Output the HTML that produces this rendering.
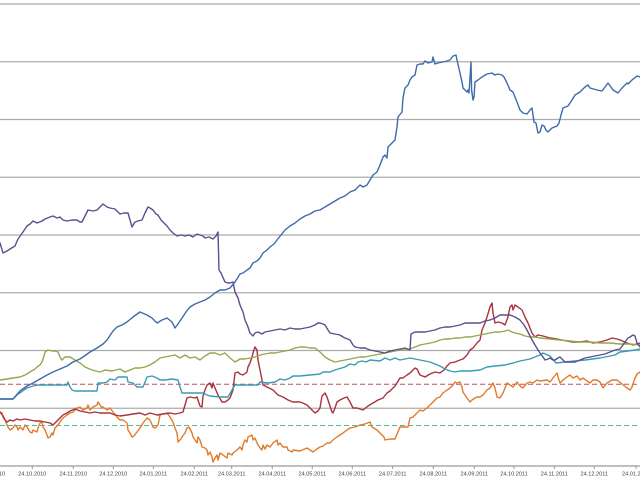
<!DOCTYPE html>
<html><head><meta charset="utf-8"><style>
html,body{margin:0;padding:0;background:#fff;}
svg{display:block;}
text{font-family:"Liberation Sans",sans-serif;font-size:5.6px;fill:#404040;}
</style></head><body>
<svg width="640" height="480" viewBox="0 0 640 480" xmlns="http://www.w3.org/2000/svg">
<rect width="640" height="480" fill="#fff"/>
<g stroke="#ababab" stroke-width="1.2">
<line x1="0" y1="4" x2="640" y2="4"/>
<line x1="0" y1="61.75" x2="640" y2="61.75"/>
<line x1="0" y1="119.5" x2="640" y2="119.5"/>
<line x1="0" y1="177.25" x2="640" y2="177.25"/>
<line x1="0" y1="235" x2="640" y2="235"/>
<line x1="0" y1="292.75" x2="640" y2="292.75"/>
<line x1="0" y1="350.5" x2="640" y2="350.5"/>
<line x1="0" y1="408.25" x2="640" y2="408.25"/>
</g>
<line x1="0" y1="466" x2="640" y2="466" stroke="#9a9a9a" stroke-width="1.2"/>
<g stroke="#9a9a9a" stroke-width="1">
<line x1="32.3" y1="466" x2="32.3" y2="469"/><line x1="73.3" y1="466" x2="73.3" y2="469"/>
<line x1="113.3" y1="466" x2="113.3" y2="469"/><line x1="153.3" y1="466" x2="153.3" y2="469"/>
<line x1="194.3" y1="466" x2="194.3" y2="469"/><line x1="231.7" y1="466" x2="231.7" y2="469"/>
<line x1="272.3" y1="466" x2="272.3" y2="469"/><line x1="312.3" y1="466" x2="312.3" y2="469"/>
<line x1="352.3" y1="466" x2="352.3" y2="469"/><line x1="392.7" y1="466" x2="392.7" y2="469"/>
<line x1="433.3" y1="466" x2="433.3" y2="469"/><line x1="474.3" y1="466" x2="474.3" y2="469"/>
<line x1="514" y1="466" x2="514" y2="469"/><line x1="554.3" y1="466" x2="554.3" y2="469"/>
<line x1="594.3" y1="466" x2="594.3" y2="469"/><line x1="636" y1="466" x2="636" y2="469"/>
</g>
<g text-anchor="middle">
<text x="-9" y="475.5">24.09.2010</text>
<text x="32.3" y="475.5">24.10.2010</text>
<text x="73.3" y="475.5">24.11.2010</text>
<text x="113.3" y="475.5">24.12.2010</text>
<text x="153.3" y="475.5">24.01.2011</text>
<text x="194.3" y="475.5">24.02.2011</text>
<text x="231.7" y="475.5">24.03.2011</text>
<text x="272.3" y="475.5">24.04.2011</text>
<text x="312.3" y="475.5">24.05.2011</text>
<text x="352.3" y="475.5">24.06.2011</text>
<text x="392.7" y="475.5">24.07.2011</text>
<text x="433.3" y="475.5">24.08.2011</text>
<text x="474.3" y="475.5">24.09.2011</text>
<text x="514" y="475.5">24.10.2011</text>
<text x="554.3" y="475.5">24.11.2011</text>
<text x="594.3" y="475.5">24.12.2011</text>
<text x="636" y="475.5">24.01.2012</text>
</g>
<line x1="0" y1="384.3" x2="640" y2="384.3" stroke="#c0505e" stroke-width="1" stroke-dasharray="5,3"/>
<line x1="0" y1="425.5" x2="640" y2="425.5" stroke="#4bbf9c" stroke-width="1" stroke-dasharray="5,3"/>
<g fill="none" stroke-width="1.4" stroke-linejoin="round" stroke-linecap="round">
<polyline stroke="#e07b2a" points="0,412 2,413 3,417 5,420 7,425 8,427 10,430 13,428 15,425 17,427 18,430 20,427 23,430 25,425 27,427 30,432 32,433 33,430 37,432 38,428 40,423 42,422 43,427 45,430 47,435 48,438 50,437 52,433 53,435 55,428 58,425 60,422 63,418 67,415 70,413 73,412 77,408 80,407 83,410 87,408 88,405 90,410 93,407 97,405 98,402 100,405 102,408 103,407 107,410 110,408 113,412 117,417 120,420 123,420 127,423 128,430 130,433 132,437 134,436 137,432 140,428 143,423 147,418 150,420 153,427 155,428 158,425 160,415 163,414 167,413 170,417 173,422 175,428 177,433 178,442 180,440 182,437 185,433 187,428 189,427 192,433 193,437 195,440 197,443 198,437 200,440 202,447 205,448 207,450 208,455 210,452 212,457 213,462 215,458 217,455 218,460 220,453 223,455 227,458 228,453 232,455 233,453 237,450 240,447 242,450 243,445 245,440 247,442 248,437 252,435 253,440 255,438 257,443 260,448 262,450 263,445 265,449 267,445 270,447 273,443 277,440 278,445 280,443 283,447 287,447 288,450 292,452 293,450 300,451 307,448 310,450 313,452 317,449 320,447 323,446 327,443 330,443 333,440 337,437 340,435 343,433 347,430 350,428 355,427 360,425 365,424 370,422 372,427 377,430 380,433 384,437 385,440 390,439 395,439 400,427 405,427 408,427 410,418 413,417 417,413 420,410 423,411 427,408 430,405 433,402 437,398 440,397 443,393 447,390 450,388 453,385 455,382 457,383 460,382 462,387 463,392 467,398 470,402 472,400 475,398 477,397 480,397 483,395 487,390 490,388 493,383 495,388 497,397 500,398 503,393 507,383 510,385 513,387 517,382 520,386 523,388 527,383 530,382 533,383 537,380 540,381 547,380 550,382 553,378 557,373 558,377 560,383 563,380 567,377 570,375 573,378 577,376 580,380 583,378 587,381 590,383 593,380 597,380 600,382 603,388 607,383 612,380 617,380 622,384 627,388 630,390 632,387 635,378 637,374 640,372"/>
<polyline stroke="#a8323e" points="0,412 3,416 5,420 7,422 10,420 13,421 17,419 20,420 25,419 30,420 35,421 40,421 45,422 50,423 53,425 56,422 60,418 63,415 67,413 70,411 75,409 80,411 85,412 90,413 95,412 100,413 105,413 110,413 115,415 120,416 127,415 133,414 140,413 145,415 150,413 157,415 163,414 170,413 175,414 180,413 183,412 185,405 187,398 190,397 195,398 197,397 200,406 202,407 203,396 205,390 207,385 210,383 212,388 213,383 215,388 218,395 222,402 225,402 228,400 230,398 233,390 235,373 238,372 240,374 243,375 247,372 248,367 250,363 252,357 253,353 255,347 257,350 258,360 260,370 262,380 263,385 267,387 273,390 278,395 283,397 288,400 293,402 300,402 305,404 307,405 312,410 315,413 318,411 320,408 322,396 325,393 327,397 330,406 332,412 333,413 335,408 337,402 340,400 344,398 347,397 350,402 353,408 357,408 360,409 363,410 368,406 373,403 378,400 383,398 387,393 390,391 395,386 400,378 403,378 407,375 410,373 413,370 415,368 417,369 420,375 425,377 430,374 435,372 440,373 444,370 447,366 450,363 455,362 460,360 463,359 467,355 470,350 473,348 477,343 480,340 482,330 485,323 487,317 490,307 492,303 493,313 495,323 498,322 502,323 505,325 508,317 510,307 512,305 513,310 515,305 518,307 522,310 525,317 528,323 530,328 532,333 535,337 538,335 543,336 550,338 557,339 567,341 573,342 580,342 587,341 593,343 600,342 607,340 612,338 617,339 620,340 627,343 633,345 640,343"/>
<polyline stroke="#3a9bb5" points="0,399 13,399 15,397 18,394 20,393 24,390 27,388 30,387 33,386 38,385 43,385 50,385 60,385 67,385 68,382 70,387 72,390 75,391 85,391 97,391 98,383 103,383 107,382 110,379 115,380 118,377 122,377 127,377 128,382 133,383 137,387 143,387 147,377 152,376 157,378 160,380 165,380 172,379 178,380 180,387 182,393 195,393 203,393 207,395 210,396 220,397 228,397 232,390 235,385 245,385 258,385 260,382 268,383 275,382 280,379 285,380 290,378 293,376 300,376 310,375 320,374 323,372 330,372 335,370 345,367 350,364 355,365 358,362 362,361 366,362 370,360 380,361 385,358 390,360 395,358 400,360 405,359 410,358 415,359 420,360 430,362 440,366 445,369 450,371 455,372 460,371 470,371 480,370 487,367 495,366 505,365 513,363 520,361 530,359 540,355 543,353 550,356 556,363 565,362 575,361 585,360 600,358 610,356 615,355 620,352 628,351 635,350 640,349"/>
<polyline stroke="#94a84c" points="0,380 7,379 13,378 20,377 25,375 30,372 35,369 37,367 40,365 42,362 44,356 45,352 48,350 52,351 55,351 58,352 60,357 62,360 63,359 65,357 70,357 75,360 80,363 85,367 92,370 100,372 105,370 112,371 120,369 125,372 130,370 135,368 140,368 145,367 150,365 155,362 160,358 165,357 170,356 175,355 180,358 185,355 190,358 195,357 200,360 205,356 210,353 215,353 220,355 225,353 230,358 235,362 240,359 245,359 250,358 255,357 260,355 265,354 270,353 275,353 280,352 285,351 290,350 295,348 300,347 305,347 310,348 315,348 320,352 325,357 330,360 335,362 340,361 345,360 350,359 355,358 360,357 365,357 370,356 375,355 380,354 385,353 390,352 395,351 400,350 405,350 410,349 415,347 420,345 425,344 430,343 435,342 440,340 445,339 450,339 455,338 460,338 465,337 470,337 475,336 480,335 485,334 490,333 495,332 500,332 505,331 508,330 512,332 515,333 520,334 525,336 530,337 535,337 540,338 550,339 560,340 570,341 580,342 590,342 600,343 610,343 620,344 630,344 640,345"/>
<polyline stroke="#5b4f8e" points="0,243 3,253 7,251 10,249 15,246 18,239 23,232 27,226 30,224 33,221 37,223 42,221 45,219 50,217 53,216 57,218 60,217 63,220 67,221 72,220 77,220 80,222 82,222 85,216 88,210 93,211 97,210 100,207 103,204 107,207 110,208 115,209 118,212 120,214 124,213 128,213 130,220 132,227 135,222 138,221 142,220 145,213 148,207 150,208 153,210 156,214 158,215 161,220 163,222 167,226 170,230 173,233 177,236 181,235 185,236 189,235 193,237 197,234 200,235 203,236 205,238 209,237 213,239 216,236 218,232 219,270 221,273 225,282 228,283 230,283 233,282 235,292 238,298 240,305 243,312 245,320 248,327 250,333 253,336 255,333 258,332 262,334 265,332 270,331 275,330 280,329 285,330 290,328 295,329 300,329 305,328 310,327 315,325 318,323 320,323 323,324 325,325 328,330 330,333 335,334 340,335 343,337 345,338 350,340 353,345 355,347 360,348 365,348 370,350 375,351 380,352 385,353 390,351 395,350 400,349 405,348 410,350 411,334 413,333 415,332 420,332 425,332 430,331 435,330 440,328 445,327 450,327 455,326 460,325 465,323 470,323 475,323 480,323 485,321 490,320 495,318 500,315 505,315 510,315 515,317 520,320 524,325 527,330 531,338 535,345 538,350 540,353 543,357 545,360 548,359 550,358 553,360 555,360 558,358 560,357 563,360 565,362 570,362 575,362 580,360 585,358 590,357 595,356 600,355 605,354 610,352 615,350 620,349 623,345 625,342 628,338 630,337 633,335 635,336 637,343 640,347"/>
<polyline stroke="#3e6aaa" points="0,399 13,399 20,391 27,386 33,383 40,379 47,375 53,372 60,369 67,366 73,362 80,359 83,357 90,352 97,348 103,344 107,340 113,331 117,327 122,325 127,322 133,317 140,312 147,315 152,318 157,323 162,320 167,318 172,322 175,328 178,324 182,318 186,312 190,307 195,304 200,302 205,300 210,297 215,293 220,290 225,290 230,288 235,282 240,274 243,273 247,270 250,268 253,263 257,261 260,258 263,253 267,250 270,247 274,244 277,240 281,235 285,230 290,226 295,223 300,219 305,216 310,214 315,211 320,210 325,207 330,204 335,201 340,198 345,196 350,192 355,190 360,185 363,187 367,185 370,180 373,175 377,172 380,165 383,157 385,155 387,158 388,147 392,143 395,140 397,127 398,117 402,112 403,98 405,88 408,85 410,80 412,77 415,75 417,65 420,64 423,64 425,61 428,63 432,62 433,57 435,64 438,63 443,62 447,61 450,60 453,56 456,55 457,60 460,73 462,82 463,88 467,92 468,90 469,93 471,62 471.6,90 473,100 474,97 475,82 478,80 482,77 487,74 492,73 495,75 498,74 502,75 504,77 507,83 510,90 513,92 517,102 520,110 523,113 527,114 530,110 532,108 533,115 534,122 536,123 538,133 540,132 542,125 544,126 546,130 548,132 552,128 557,126 559,123 561,115 563,108 568,106 572,100 575,95 580,92 585,87 588,85 590,88 597,90 602,91 605,87 608,83 611,87 613,90 618,93 622,88 627,83 628,84 632,80 637,76 640,77"/>
</g>
</svg>
</body></html>
